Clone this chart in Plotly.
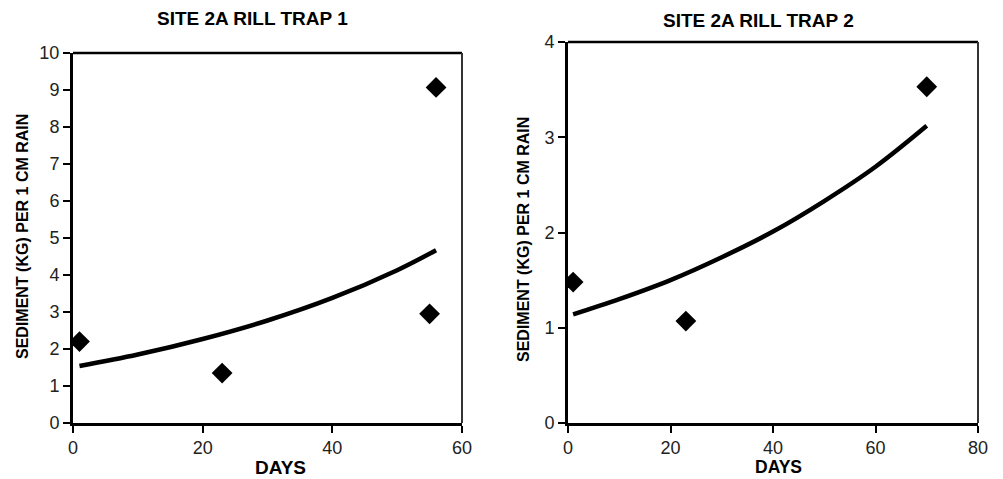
import plotly.graph_objects as go

# ---- data ----
t1_days = [1, 23, 55, 56]
t1_sed = [2.2, 1.35, 2.95, 9.07]
t1_trend_days = [1, 10, 20, 30, 40, 50, 56]
t1_trend_sed = [1.54, 1.85, 2.27, 2.77, 3.38, 4.13, 4.67]

t2_days = [1, 23, 70]
t2_sed = [1.48, 1.07, 3.53]
t2_trend_days = [1, 10, 20, 30, 40, 50, 60, 70]
t2_trend_sed = [1.14, 1.30, 1.50, 1.74, 2.01, 2.33, 2.69, 3.12]

titles = ["SITE 2A RILL TRAP 1", "SITE 2A RILL TRAP 2"]
x_title = "DAYS"
y_title = "SEDIMENT (KG) PER 1 CM RAIN"

W, H = 1003, 479
FONT = "Liberation Sans, Arial, sans-serif"

fig = go.Figure()

def add_panel(idx, days, sed, tdays, tsed):
    xa = "x" if idx == 1 else "x2"
    ya = "y" if idx == 1 else "y2"
    fig.add_trace(go.Scatter(x=tdays, y=tsed, mode="lines", line=dict(color="black", width=4.5, shape="spline"),
                             xaxis=xa, yaxis=ya, showlegend=False, hoverinfo="skip"))
    fig.add_trace(go.Scatter(x=days, y=sed, mode="markers",
                             marker=dict(symbol="diamond", size=16, color="black"),
                             xaxis=xa, yaxis=ya, showlegend=False))

add_panel(1, t1_days, t1_sed, t1_trend_days, t1_trend_sed)
add_panel(2, t2_days, t2_sed, t2_trend_days, t2_trend_sed)

def px_x(p):
    return p / W

def px_y(p):
    return 1 - p / H

tickfont = dict(family=FONT, size=18, color="#222")
xaxis_common = dict(showgrid=False, zeroline=False, showline=True, linecolor="black", linewidth=2.5,
                    ticks="outside", ticklen=7, tickwidth=1.5, tickcolor="black", tickfont=tickfont,
                    automargin=False, fixedrange=True)
yaxis_common = dict(xaxis_common, linewidth=3)

fig.update_layout(
    width=W, height=H, autosize=False, margin=dict(l=0, r=0, t=0, b=0, pad=0, autoexpand=False),
    paper_bgcolor="white", plot_bgcolor="white",
    xaxis=dict(domain=[px_x(73), px_x(462)], range=[0, 60], dtick=20, anchor="y", **xaxis_common),
    yaxis=dict(domain=[px_y(423), px_y(53)], range=[0, 10], dtick=1, anchor="x", **yaxis_common),
    xaxis2=dict(domain=[px_x(568), px_x(978)], range=[0, 80], dtick=20, anchor="y2", **xaxis_common),
    yaxis2=dict(domain=[px_y(423), px_y(42)], range=[0, 4], dtick=1, anchor="x2", **yaxis_common),
)

# top/right frame lines
for xr, yr in [("x domain", "y domain"), ("x2 domain", "y2 domain")]:
    fig.add_shape(type="line", xref=xr, yref=yr, x0=0, x1=1, y0=1, y1=1, line=dict(color="black", width=2.5), layer="below")
    fig.add_shape(type="line", xref=xr, yref=yr, x0=1, x1=1, y0=0, y1=1, line=dict(color="#333", width=2), layer="below")

ann = [
    dict(text="<b>%s</b>" % titles[0], x=px_x(252), y=px_y(18), font=dict(family=FONT, size=19, color="black")),
    dict(text="<b>%s</b>" % titles[1], x=px_x(758), y=px_y(20), font=dict(family=FONT, size=19, color="black")),
    dict(text="<b>%s</b>" % x_title, x=px_x(280), y=px_y(467), font=dict(family=FONT, size=19, color="black")),
    dict(text="<b>%s</b>" % x_title, x=px_x(778), y=px_y(467), font=dict(family=FONT, size=17.5, color="black")),
    dict(text="<b>%s</b>" % y_title, x=px_x(22), y=px_y(237), textangle=-90, font=dict(family=FONT, size=16, color="black")),
    dict(text="<b>%s</b>" % y_title, x=px_x(523), y=px_y(240), textangle=-90, font=dict(family=FONT, size=16, color="black")),
]
for a in ann:
    fig.add_annotation(xref="paper", yref="paper", showarrow=False, xanchor="center", yanchor="middle", **a)

fig.write_html("out.html", config={"displayModeBar": False},
               post_script="document.body.style.margin='0';document.body.style.overflow='hidden';")
